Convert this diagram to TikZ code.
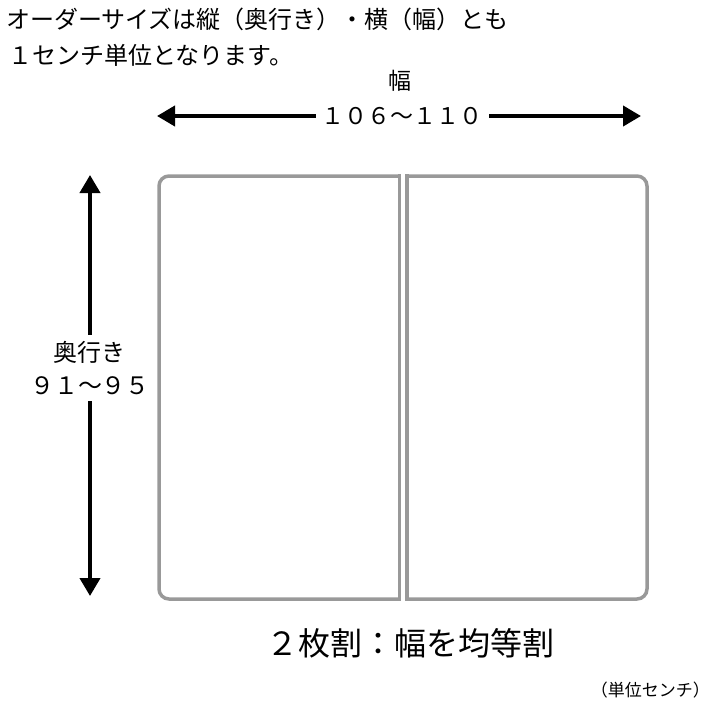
\documentclass[tikz,border=0pt]{standalone}
\usepackage{fontspec}
\setmainfont{Noto Sans CJK JP}
\usetikzlibrary{arrows.meta}
\begin{document}
\begin{tikzpicture}[x=1pt,y=-1pt,
  dim/.style={line width=4pt,{Triangle[length=18pt,width=20pt]}-{Triangle[length=18pt,width=20pt]}},
  panel/.style={draw=black!40,line width=3.5pt},
  lbl/.style={inner sep=0pt,font=\fontsize{23}{26}\selectfont}]
\useasboundingbox (0,0) rectangle (720,720);
\node[lbl,anchor=west,font=\fontsize{24}{26}\selectfont] (t1) at (6,19) {オーダーサイズは縦（奥行き）・横（幅）とも};
\node[lbl,anchor=west,font=\fontsize{24}{26}\selectfont] (t2) at (8,55) {１センチ単位となります。};
\node[lbl] (w1) at (400,81) {幅};
\coordinate (wl) at (157,116); \coordinate (wr) at (641,116);
\draw[dim] (wl) -- (wr);
\node[lbl,fill=white,inner xsep=6pt] (w2) at (402,116) {１０６～１１０};
\coordinate (ht) at (90,175); \coordinate (hb) at (90,596);
\draw[dim] (ht) -- (hb);
\node[lbl,fill=white,align=center,inner ysep=6pt,font=\fontsize{24}{33}\selectfont] (h) at (90,368) {奥行き\\９１～９５};
\draw[panel,rounded corners=10pt] (399.5,176) -- (159,176) -- (159,599) -- (399.5,599);
\draw[panel,rounded corners=10pt] (407,176) -- (647,176) -- (647,599) -- (407,599);
\draw[panel,line cap=rect] (399.5,176) -- (399.5,599) (407,176) -- (407,599);
\node[inner sep=0pt,font=\fontsize{32}{34}\selectfont] (b) at (410,643) {２枚割：幅を均等割};
\node[inner sep=0pt,anchor=east,font=\fontsize{17}{19}\selectfont] (u) at (710,690) {（単位センチ）};
\end{tikzpicture}
\end{document}
